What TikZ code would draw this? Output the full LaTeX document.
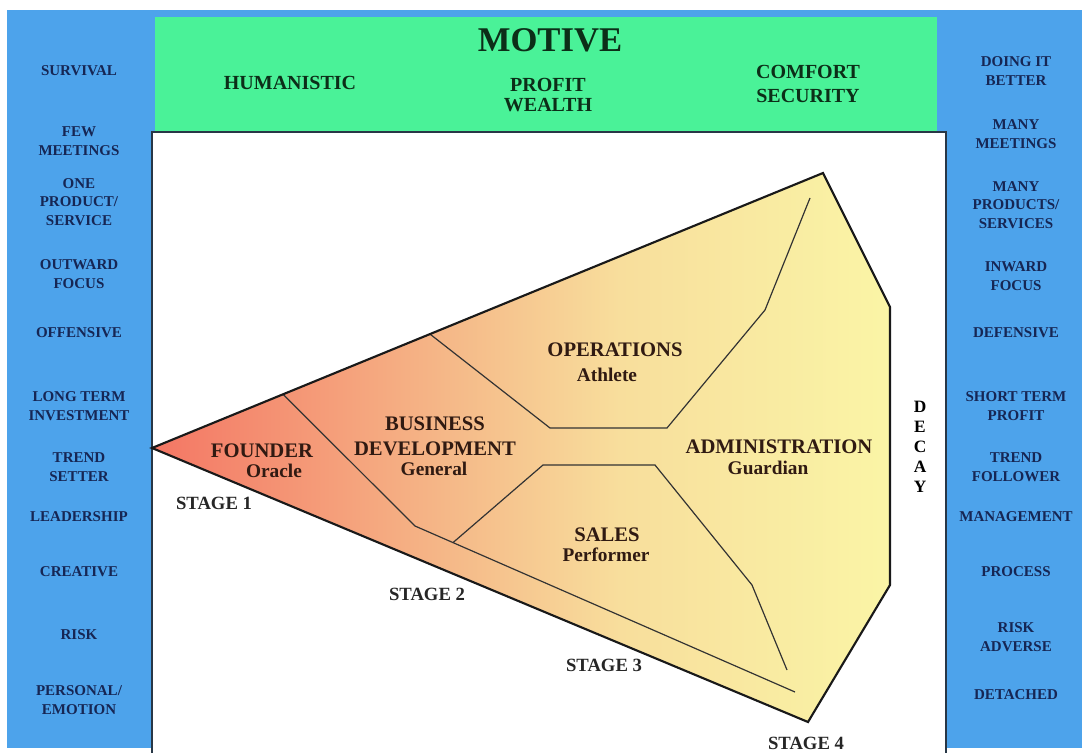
\documentclass[tikz,border=0pt]{standalone}
\usepackage{fontspec}
\setmainfont{Liberation Serif}
\usepackage{tikz}
\usepackage{xcolor}
\definecolor{panelblue}{RGB}{77,163,235}
\definecolor{motivegreen}{RGB}{74,242,152}
\definecolor{navytext}{RGB}{22,38,84}
\definecolor{greentext}{RGB}{12,46,24}
\definecolor{browntext}{RGB}{48,26,18}
\definecolor{frameslate}{RGB}{40,55,70}
\definecolor{fadered}{RGB}{244,118,100}
\definecolor{fadeorange}{RGB}{245,184,136}
\definecolor{fadesand}{RGB}{248,222,156}
\definecolor{fadeyellow}{RGB}{250,245,166}
\pgfdeclarehorizontalshading{stagefade}{100bp}{color(0bp)=(fadered); color(25bp)=(fadered);
  color(45bp)=(fadeorange); color(56.7bp)=(fadesand); color(75bp)=(fadeyellow); color(100bp)=(fadeyellow)}

\begin{document}
\begin{tikzpicture}[
  x=0.75pt, y=-0.75pt,
  trait/.style={align=center, inner sep=0pt, text=navytext,
               font=\bfseries\fontsize{11.25}{13.9}\selectfont},
  motive/.style={align=center, inner sep=0pt, text=greentext,
               font=\bfseries\fontsize{15}{18}\selectfont},
  role/.style={align=center, inner sep=0pt, text=browntext,
               font=\bfseries\fontsize{15.5}{18.75}\selectfont},
  persona/.style={inner sep=0pt, text=browntext, font=\bfseries\fontsize{14.5}{16}\selectfont},
  stagelabel/.style={inner sep=0pt, text=black!85, font=\bfseries\fontsize{14}{16}\selectfont},
  rim/.style={line width=1.6pt, line join=miter, draw=black!90},
  divider/.style={line width=0.9pt, draw=black!80}
]
  \useasboundingbox (0,0) rectangle (1082,753);
  \fill[white] (0,0) rectangle (1082,753);
  \fill[panelblue] (7,10) rectangle (1082,748);
  \fill[motivegreen] (155,17) rectangle (937,132);
  \filldraw[fill=white, draw=frameslate, line width=1.2pt] (152,753) -- (152,132) -- (946,132) -- (946,753);

  % stages
  \coordinate (apex) at (152,448);
  \coordinate (peak) at (823,173);
  \coordinate (shoulder) at (890,307);
  \coordinate (hip) at (890,585);
  \coordinate (toe) at (808,722);
  \shade[shading=stagefade] (apex) -- (peak) -- (shoulder) -- (hip) -- (toe) -- cycle;

  \draw[divider] (283,394.3) -- (415,526) -- (795,692);
  \draw[divider] (430,334.1) -- (550,428) -- (667,428) -- (765,310) -- (810,198);
  \draw[divider] (453,542.6) -- (543,465) -- (655,465) -- (752,585) -- (787,670);
  \draw[rim] (apex) -- (peak) -- (shoulder) -- (hip) -- (toe) -- cycle;

  \node[role] (founder) at (262,451) {FOUNDER};
  \node[persona] (oracle) at (274,471) {Oracle};
  \node[role] (busdev) at (435,436) {BUSINESS\\DEVELOPMENT};
  \node[persona] (general) at (434,469) {General};
  \node[role] (operations) at (615,350) {OPERATIONS};
  \node[persona] (athlete) at (607,375) {Athlete};
  \node[role] (administration) at (779,447) {ADMINISTRATION};
  \node[persona] (guardian) at (768,468) {Guardian};
  \node[role] (sales) at (607,535) {SALES};
  \node[persona] (performer) at (606,555) {Performer};

  \node[stagelabel] (stage1) at (214,503) {STAGE 1};
  \node[stagelabel] (stage2) at (427,594) {STAGE 2};
  \node[stagelabel] (stage3) at (604,665) {STAGE 3};
  \node[stagelabel] (stage4) at (806,743) {STAGE 4};
  \node[align=center, inner sep=0pt, font=\bfseries\fontsize{13}{15}\selectfont] (decay) at (920,447) {D\\E\\C\\A\\Y};

  % motive
  \node[inner sep=0pt, text=greentext, font=\bfseries\fontsize{26}{30}\selectfont] (motivetitle) at (550,40) {MOTIVE};
  \node[motive] (humanistic) at (290,83) {HUMANISTIC};
  \node[motive] (profit) at (548,95) {PROFIT\\[-2.5pt]WEALTH};
  \node[motive] (comfort) at (808,84) {COMFORT\\SECURITY};

  % young side
  \node[trait] (survival) at (79,71) {SURVIVAL};
  \node[trait] (fewmeet) at (79,141) {FEW\\MEETINGS};
  \node[trait] (oneprod) at (79,202) {ONE\\PRODUCT/\\SERVICE};
  \node[trait] (outward) at (79,274) {OUTWARD\\FOCUS};
  \node[trait] (offensive) at (79,333) {OFFENSIVE};
  \node[trait] (longterm) at (79,406) {LONG TERM\\INVESTMENT};
  \node[trait] (setter) at (79,467) {TREND\\SETTER};
  \node[trait] (leadership) at (79,517) {LEADERSHIP};
  \node[trait] (creative) at (79,572) {CREATIVE};
  \node[trait] (risk) at (79,635) {RISK};
  \node[trait] (personal) at (79,700) {PERSONAL/\\EMOTION};

  % old side
  \node[trait] (better) at (1016,71) {DOING IT\\BETTER};
  \node[trait] (manymeet) at (1016,134) {MANY\\MEETINGS};
  \node[trait] (manyprod) at (1016,205) {MANY\\PRODUCTS/\\SERVICES};
  \node[trait] (inward) at (1016,276) {INWARD\\FOCUS};
  \node[trait] (defensive) at (1016,333) {DEFENSIVE};
  \node[trait] (shortterm) at (1016,406) {SHORT TERM\\PROFIT};
  \node[trait] (follower) at (1016,467) {TREND\\FOLLOWER};
  \node[trait] (management) at (1016,517) {MANAGEMENT};
  \node[trait] (process) at (1016,572) {PROCESS};
  \node[trait] (adverse) at (1016,637) {RISK\\ADVERSE};
  \node[trait] (detached) at (1016,695) {DETACHED};
\end{tikzpicture}
\end{document}
